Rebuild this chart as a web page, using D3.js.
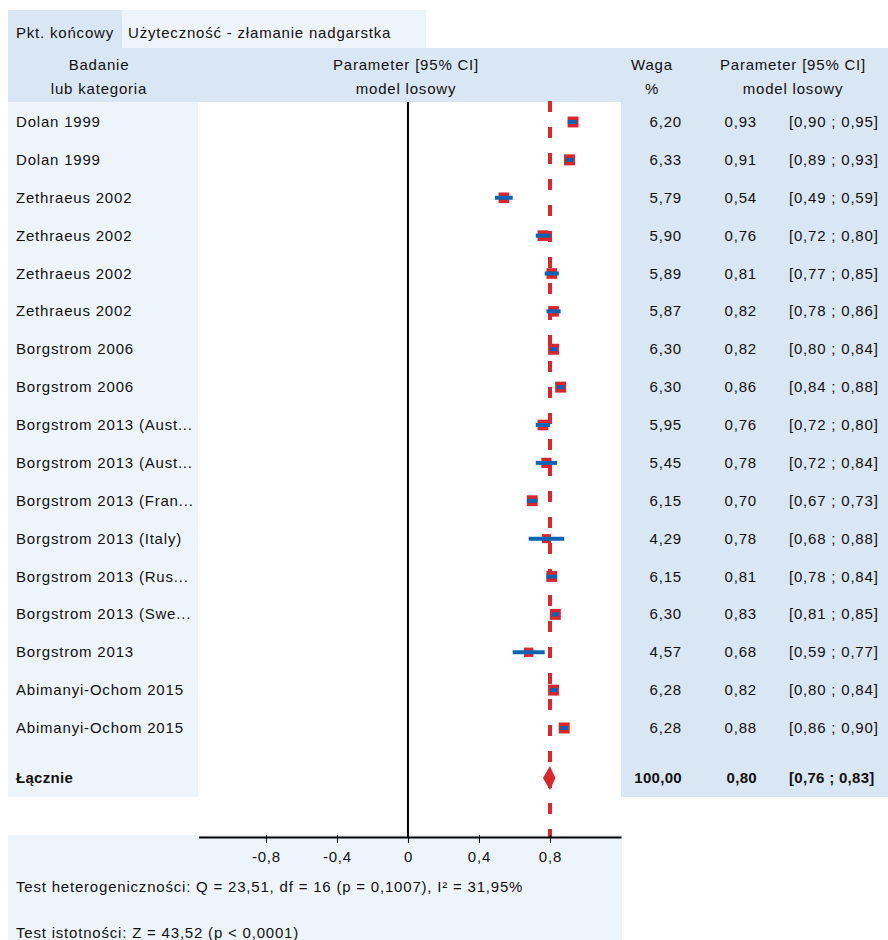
<!DOCTYPE html>
<html>
<head>
<meta charset="utf-8">
<script src="https://cdn.jsdelivr.net/npm/d3@7"></script>
<style>
  body { margin: 0; background: #fff; }
  text { font-family: "Liberation Sans", Arial, sans-serif; font-size: 15px; fill: #111; letter-spacing: 0.8px; }
  .bold { font-weight: bold; letter-spacing: 0.3px; }
</style>
</head>
<body>
<div id="chart"></div>
<script>
// data
var studies = [
  "Dolan 1999", "Dolan 1999", "Zethraeus 2002", "Zethraeus 2002", "Zethraeus 2002",
  "Zethraeus 2002", "Borgstrom 2006", "Borgstrom 2006", "Borgstrom 2013 (Aust...",
  "Borgstrom 2013 (Aust...", "Borgstrom 2013 (Fran...", "Borgstrom 2013 (Italy)",
  "Borgstrom 2013 (Rus...", "Borgstrom 2013 (Swe...", "Borgstrom 2013",
  "Abimanyi-Ochom 2015", "Abimanyi-Ochom 2015"
];
var weights = [6.20, 6.33, 5.79, 5.90, 5.89, 5.87, 6.30, 6.30, 5.95, 5.45, 6.15, 4.29, 6.15, 6.30, 4.57, 6.28, 6.28];
var estimates = [0.93, 0.91, 0.54, 0.76, 0.81, 0.82, 0.82, 0.86, 0.76, 0.78, 0.70, 0.78, 0.81, 0.83, 0.68, 0.82, 0.88];
var lower = [0.90, 0.89, 0.49, 0.72, 0.77, 0.78, 0.80, 0.84, 0.72, 0.72, 0.67, 0.68, 0.78, 0.81, 0.59, 0.80, 0.86];
var upper = [0.95, 0.93, 0.59, 0.80, 0.85, 0.86, 0.84, 0.88, 0.80, 0.84, 0.73, 0.88, 0.84, 0.85, 0.77, 0.84, 0.90];
var totalLabel = "Łącznie";
var totalWeight = 100;
var totalEst = 0.80, totalLo = 0.76, totalHi = 0.83;
var xTicks = [-0.8, -0.4, 0, 0.4, 0.8];
var testHet = "Test heterogeniczności: Q = 23,51, df = 16 (p = 0,1007), I² = 31,95%";
var testSig = "Test istotności: Z = 43,52 (p < 0,0001)";

var width = 888, height = 940;
var dark = "#d9e6f4", light = "#eef4fb";
var red = "#d7262e", blue = "#0b63b3";

var fmt = function (v) { return d3.format(".2f")(v).replace(".", ","); };

var svg = d3.select("#chart").append("svg")
  .attr("width", width).attr("height", height);

/* Scales */
var x = d3.scaleLinear().domain([-1.18, 1.2]).range([198.5, 621]);
var y = d3.scaleLinear().domain([0, studies.length - 1]).range([122, 728]);
var yTotal = 778;
var size = d3.scaleSqrt().domain([0, d3.max(weights)]).range([0, 11]);

/* Backgrounds */
svg.append("rect").attr("x", 8).attr("y", 10).attr("width", 114).attr("height", 38).attr("fill", dark);
svg.append("rect").attr("x", 122).attr("y", 10).attr("width", 304).attr("height", 38).attr("fill", light);
svg.append("rect").attr("x", 8).attr("y", 48).attr("width", 880).attr("height", 54).attr("fill", dark);
svg.append("rect").attr("x", 8).attr("y", 102).attr("width", 190).attr("height", 695).attr("fill", light);
svg.append("rect").attr("x", 621).attr("y", 102).attr("width", 267).attr("height", 695).attr("fill", dark);
svg.append("rect").attr("x", 8).attr("y", 835).attr("width", 614).attr("height", 105).attr("fill", light);

/* Tab + header text */
svg.append("text").attr("x", 16).attr("y", 38).text("Pkt. końcowy");
svg.append("text").attr("x", 128).attr("y", 38).text("Użyteczność - złamanie nadgarstka");

var headers = [
  { cx: 99, l1: "Badanie", l2: "lub kategoria" },
  { cx: 406, l1: "Parameter [95% CI]", l2: "model losowy" },
  { cx: 652, l1: "Waga", l2: "%" },
  { cx: 793, l1: "Parameter [95% CI]", l2: "model losowy" }
];
headers.forEach(function (h) {
  svg.append("text").attr("x", h.cx).attr("y", 70).attr("text-anchor", "middle").text(h.l1);
  svg.append("text").attr("x", h.cx).attr("y", 94).attr("text-anchor", "middle").text(h.l2);
});

/* Reference lines */
svg.append("line")
  .attr("x1", x(0)).attr("x2", x(0)).attr("y1", 102).attr("y2", 837)
  .attr("stroke", "#000").attr("stroke-width", 2);

svg.append("line")
  .attr("x1", x(totalEst)).attr("x2", x(totalEst)).attr("y1", 101).attr("y2", 837)
  .attr("stroke", red).attr("stroke-width", 4).attr("stroke-dasharray", "11,15");

/* Study rows */
var rows = svg.append("g").selectAll("g").data(studies).enter().append("g");

rows.append("text").attr("x", 16).attr("y", (d, i) => y(i) + 5).text(d => d);

rows.append("rect")
  .attr("x", (d, i) => x(estimates[i]) - size(weights[i]) / 2)
  .attr("y", (d, i) => y(i) - size(weights[i]) / 2)
  .attr("width", (d, i) => size(weights[i]))
  .attr("height", (d, i) => size(weights[i]))
  .attr("fill", red);

rows.append("line")
  .attr("x1", (d, i) => x(lower[i])).attr("x2", (d, i) => x(upper[i]))
  .attr("y1", (d, i) => y(i)).attr("y2", (d, i) => y(i))
  .attr("stroke", blue).attr("stroke-width", 4);

rows.append("text").attr("x", 682).attr("y", (d, i) => y(i) + 5)
  .attr("text-anchor", "end").text((d, i) => fmt(weights[i]));
rows.append("text").attr("x", 757).attr("y", (d, i) => y(i) + 5)
  .attr("text-anchor", "end").text((d, i) => fmt(estimates[i]));
rows.append("text").attr("x", 789).attr("y", (d, i) => y(i) + 5)
  .text((d, i) => "[" + fmt(lower[i]) + " ; " + fmt(upper[i]) + "]");

/* Pooled row */
svg.append("text").attr("class", "bold").attr("x", 16).attr("y", yTotal + 5).text(totalLabel);
svg.append("path")
  .attr("d", "M" + x(totalLo) + "," + yTotal + "L" + x(totalEst) + "," + (yTotal - 12) +
    "L" + x(totalHi) + "," + yTotal + "L" + x(totalEst) + "," + (yTotal + 12) + "Z")
  .attr("fill", red);
svg.append("text").attr("class", "bold").attr("x", 682).attr("y", yTotal + 5)
  .attr("text-anchor", "end").text(fmt(totalWeight));
svg.append("text").attr("class", "bold").attr("x", 757).attr("y", yTotal + 5)
  .attr("text-anchor", "end").text(fmt(totalEst));
svg.append("text").attr("class", "bold").attr("x", 789).attr("y", yTotal + 5)
  .text("[" + fmt(totalLo) + " ; " + fmt(totalHi) + "]");

/* Axis */
var xAxis = d3.axisBottom(x).tickValues(xTicks).tickSizeInner(6).tickSizeOuter(0)
  .tickPadding(8)
  .tickFormat(d => d === 0 ? "0" : d3.format(".1f")(d).replace(".", ",").replace("−", "-"));

var ax = svg.append("g").attr("transform", "translate(0,837)").call(xAxis);
ax.select(".domain").attr("stroke", "#000").attr("stroke-width", 2);
ax.selectAll(".tick line").attr("stroke", "#000").attr("y1", -2);
ax.selectAll(".tick text").style("font-size", "15px").attr("fill", "#111")
  .style("font-family", "Liberation Sans, Arial, sans-serif");

/* Test statistics */
svg.append("text").attr("x", 16).attr("y", 892).text(testHet);
svg.append("text").attr("x", 16).attr("y", 938).text(testSig);
</script>
</body>
</html>
